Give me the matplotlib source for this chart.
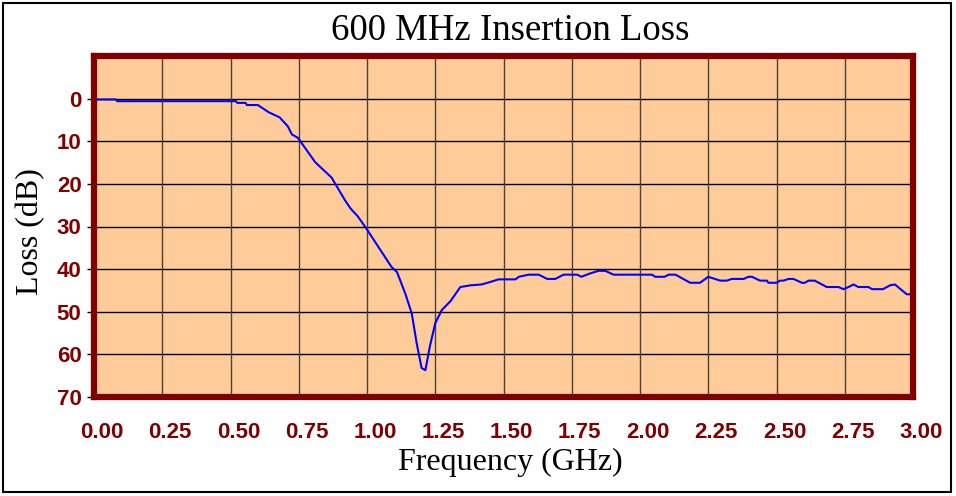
import matplotlib
matplotlib.use('Agg')
import matplotlib.pyplot as plt
import matplotlib.transforms as mtransforms
from matplotlib.patches import Rectangle

# insertion loss
freq_ghz = [0.0, 0.08, 0.085, 0.52, 0.525, 0.555, 0.56, 0.60, 0.64, 0.68,
            0.71, 0.725, 0.747, 0.81, 0.87, 0.92, 0.94, 0.966, 1.0, 1.05,
            1.09, 1.11, 1.14, 1.164, 1.182, 1.20, 1.214, 1.23, 1.25, 1.274,
            1.306, 1.342, 1.379, 1.42, 1.452, 1.482, 1.544, 1.556, 1.592, 1.629,
            1.66, 1.69, 1.72, 1.77, 1.785, 1.818, 1.848, 1.873, 1.903, 2.044,
            2.056, 2.09, 2.105, 2.13, 2.184, 2.22, 2.25, 2.294, 2.318, 2.336,
            2.38, 2.397, 2.41, 2.44, 2.465, 2.47, 2.50, 2.513, 2.526, 2.544,
            2.562, 2.593, 2.604, 2.617, 2.64, 2.684, 2.727, 2.745, 2.764, 2.782,
            2.80, 2.837, 2.85, 2.89, 2.916, 2.934, 2.96, 2.977, 3.0]
loss_db = [0.2, 0.2, 0.6, 0.6, 1.0, 1.0, 1.5, 1.5, 3.2, 4.4,
           6.5, 8.4, 9.2, 14.9, 18.5, 23.9, 25.8, 27.6, 30.7, 35.6,
           39.5, 40.7, 45.7, 50.4, 57.4, 63.2, 63.7, 58.2, 52.7, 49.6,
           47.5, 44.2, 43.8, 43.6, 43.0, 42.4, 42.4, 41.8, 41.3, 41.3,
           42.3, 42.3, 41.3, 41.3, 41.8, 41.0, 40.4, 40.4, 41.3, 41.3,
           41.8, 41.8, 41.3, 41.3, 43.2, 43.2, 41.8, 42.7, 42.7, 42.3,
           42.3, 41.8, 41.8, 42.7, 42.7, 43.2, 43.2, 42.7, 42.7, 42.3,
           42.3, 43.2, 43.2, 42.7, 42.7, 44.2, 44.2, 44.7, 44.2, 43.6,
           44.2, 44.2, 44.7, 44.7, 43.8, 43.6, 45.0, 45.9, 45.9]

x_ticks = [0.0, 0.25, 0.5, 0.75, 1.0, 1.25, 1.5, 1.75, 2.0, 2.25, 2.5, 2.75, 3.0]
y_ticks = [0, 10, 20, 30, 40, 50, 60, 70]

W, H = 956, 496
fig = plt.figure(figsize=(W / 100, H / 100), dpi=100)
fig.patch.set_facecolor('white')

# outer frame
fig.patches.append(Rectangle((3 / W, 4 / H), 948 / W, 489 / H, transform=fig.transFigure,
                             fill=False, edgecolor='black', linewidth=1.5))

left, right, top, bottom = 94, 913, 56, 397
ax = fig.add_axes([left / W, 1 - bottom / H, (right - left) / W, (bottom - top) / H])
ax.set_facecolor('#FFCC99')

ax.plot(freq_ghz, loss_db, color='#0000FF', linewidth=1.5, zorder=3)

ax.set_xlim(0, 3)
ax.set_ylim(70, -10)
ax.set_xticks(x_ticks)
ax.set_yticks(y_ticks)
ax.set_xticklabels(['%.2f' % v for v in x_ticks])
ax.set_yticklabels([str(v) for v in y_ticks])

# horizontal grid also at -10 (hidden under border)
for yv in range(-10, 71, 10):
    ax.axhline(yv, color='black', linewidth=1.0, zorder=1)
for xv in x_ticks:
    ax.axvline(xv, color='#4a4036', linewidth=1.0, zorder=1)

tick_font = dict(family='Liberation Sans', weight='bold', size=16)
for lab in ax.get_xticklabels() + ax.get_yticklabels():
    lab.set_fontproperties(tick_font)
    lab.set_color('#800000')

ax.tick_params(axis='x', length=0, pad=18)
ax.tick_params(axis='y', length=5, width=1, color='black', pad=4)

# excel places x labels a bit right of the gridlines
offset = mtransforms.ScaledTranslation(8 / 100, 0, fig.dpi_scale_trans)
for lab in ax.get_xticklabels():
    lab.set_transform(lab.get_transform() + offset)

for sp in ax.spines.values():
    sp.set_color('#800000')
    sp.set_linewidth(4.5)
    sp.set_zorder(4)

fig.text(510 / W, 1 - 31 / H, '600 MHz Insertion Loss', ha='center', va='center',
         family='Liberation Serif', fontsize=26.5)
fig.text(510 / W, 1 - 462 / H, 'Frequency (GHz)', ha='center', va='center',
         family='Liberation Serif', fontsize=23)
fig.text(31 / W, 1 - 232 / H, 'Loss (dB)', ha='center', va='center', rotation=90,
         family='Liberation Serif', fontsize=23)

plt.savefig('out.png', dpi=100)
